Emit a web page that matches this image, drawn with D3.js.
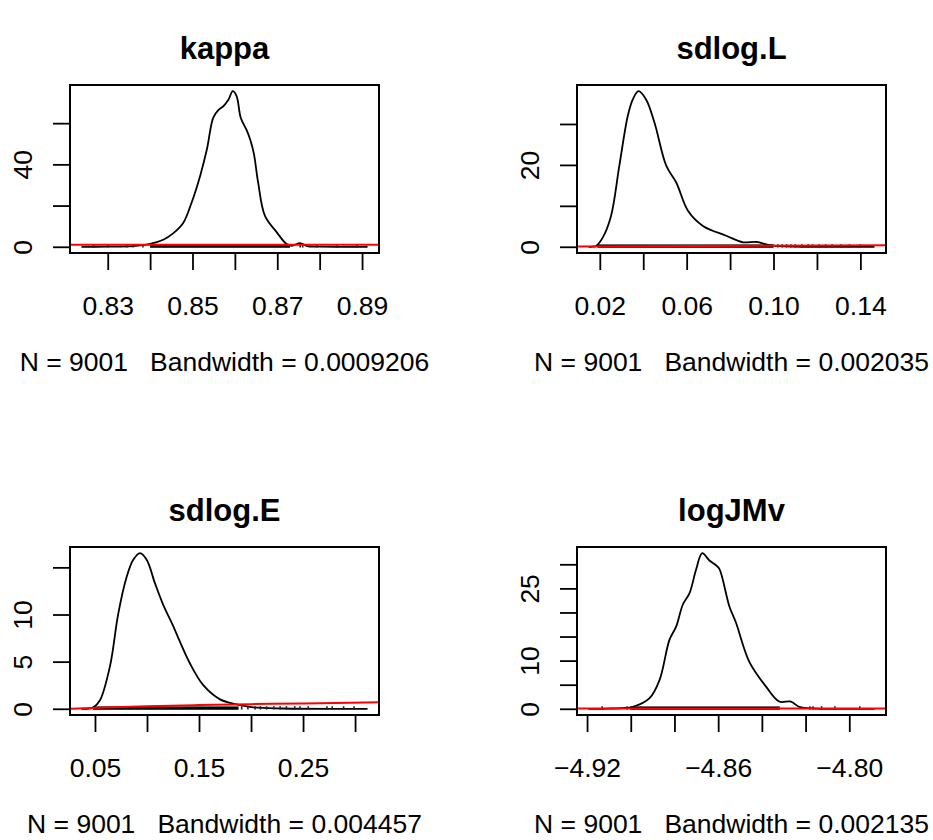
<!DOCTYPE html>
<meta charset="utf-8">
<style>
body { margin: 0; background: #fff; }
svg { display: block; }
text { font-family: "Liberation Sans", Arial, sans-serif; fill: #000; }
.axis text { font-size: 26.5px; }
.axis line, .axis path { stroke: #000; stroke-width: 1.8px; }
.box { fill: none; stroke: #000; stroke-width: 2px; }
.dens { fill: none; stroke: #000; stroke-width: 1.8px; }
.prior { fill: none; stroke: #ff0000; stroke-width: 2px; }
.title { font-size: 31px; font-weight: bold; }
.sub { font-size: 26.5px; white-space: pre; }
</style>
<svg width="933" height="840"></svg>

<script src="https://d3js.org/d3.v7.min.js"></script>
<script>

// panel titles and footers
var titles = ["kappa", "sdlog.L", "sdlog.E", "logJMv"];
var subs = ["N = 9001   Bandwidth = 0.0009206",
            "N = 9001   Bandwidth = 0.002035",
            "N = 9001   Bandwidth = 0.004457",
            "N = 9001   Bandwidth = 0.002135"];

// posterior density curves
var kappaX = [0.8238, 0.8300, 0.8360, 0.8400, 0.8431, 0.8455, 0.8478, 0.8498, 0.8518, 0.8534, 0.8549, 0.8561, 0.8573, 0.8585, 0.8595, 0.8604, 0.8614, 0.8628, 0.8637, 0.8645, 0.8655, 0.8671, 0.8699, 0.8722, 0.8734, 0.8754, 0.8770, 0.8800, 0.8913];
var kappaY = [0, 0.05, 0.3, 1.4, 3.4, 6.6, 11.5, 21.5, 34.4, 47.3, 62.7, 66.3, 68.3, 71.5, 75.5, 73.1, 62.5, 56.5, 51.5, 45, 31, 15, 7, 1.3, 0.5, 1.8, 0.3, 0.05, 0];

var sdlogLX = [0.0148, 0.0170, 0.0183, 0.0214, 0.0252, 0.0290, 0.0329, 0.0352, 0.0378, 0.0413, 0.0452, 0.0506, 0.0552, 0.0606, 0.0675, 0.0782, 0.0859, 0.0921, 0.0982, 0.1050, 0.1465];
var sdlogLY = [0, 0.02, 0.2, 2.3, 7.6, 19.8, 32, 36, 38, 36, 30.3, 19.8, 15.7, 8.8, 5.1, 2.7, 1.1, 1.2, 0.4, 0.1, 0];

var sdlogEX = [0.037, 0.0440, 0.0484, 0.0548, 0.0644, 0.0724, 0.0805, 0.0868, 0.0933, 0.0997, 0.1077, 0.1157, 0.1238, 0.1413, 0.1541, 0.1702, 0.1862, 0.2022, 0.2300, 0.312];
var sdlogEY = [0, 0.02, 0.15, 0.9, 4.5, 10.1, 14, 15.8, 16.5, 15.8, 13.3, 11, 9.1, 4.8, 2.5, 1.0, 0.47, 0.15, 0.03, 0];

var logJMvX = [-4.9194, -4.9100, -4.9040, -4.8990, -4.8914, -4.8868, -4.8823, -4.8792, -4.8762, -4.8731, -4.8701, -4.8673, -4.8640, -4.8610, -4.8594, -4.8549, -4.8518, -4.8458, -4.8381, -4.8321, -4.8267, -4.8229, -4.8150, -4.7884];
var logJMvY = [0, 0.05, 0.15, 0.4, 2.2, 6, 14.3, 17.1, 21.6, 24, 28.9, 32.3, 30.8, 29.8, 29.0, 21.3, 17.8, 9.8, 4.6, 1.5, 1.5, 0.4, 0.05, 0];

// prior densities (red)
var kappaPriorX = [0.8211, 0.8940], kappaPriorY = [1, 1];
var sdlogLPriorX = [0.0095, 0.1518], sdlogLPriorY = [0.05, 0.4];
var sdlogEPriorX = [0.026, 0.06, 0.10, 0.15, 0.20, 0.25, 0.323];
var sdlogEPriorY = [0.0, 0.14, 0.27, 0.39, 0.49, 0.57, 0.68];
var logJMvPriorX = [-4.9246, -4.7832], logJMvPriorY = [0.05, 0.05];

// rug: dense stretch + isolated observations
var kappaRugDense = [0.8400, 0.8730];
var kappaRug = [0.8266, 0.8300, 0.8345, 0.8360, 0.8383, 0.8754, 0.8760, 0.8793, 0.8840, 0.8888];
var sdlogLRugDense = [0.0190, 0.1000];
var sdlogLRug = [0.102, 0.104, 0.106, 0.108, 0.110, 0.113, 0.116, 0.118, 0.121, 0.124, 0.127, 0.131, 0.135, 0.140];
var sdlogERugDense = [0.0480, 0.1880];
var sdlogERug = [0.191, 0.197, 0.204, 0.209, 0.215, 0.222, 0.228, 0.234, 0.242, 0.247, 0.255, 0.273, 0.278, 0.289, 0.299];
var logJMvRugDense = [-4.9002, -4.8318];
var logJMvRug = [-4.9131, -4.9017, -4.8979, -4.8956, -4.8180, -4.8166, -4.8127, -4.8066, -4.7952];

// axis ranges and ticks
var xDomains = [[0.8211, 0.8940], [0.0095, 0.1518], [0.026, 0.323], [-4.9246, -4.7832]];
var yMax = [75.5, 38, 16.5, 32.3];
var xTicks = [[0.83, 0.84, 0.85, 0.86, 0.87, 0.88, 0.89],
              [0.02, 0.04, 0.06, 0.08, 0.10, 0.12, 0.14],
              [0.05, 0.10, 0.15, 0.20, 0.25, 0.30],
              [-4.92, -4.90, -4.88, -4.86, -4.84, -4.82, -4.80]];
var xLabels = [["0.83", "0.85", "0.87", "0.89"],
               ["0.02", "0.06", "0.10", "0.14"],
               ["0.05", "0.15", "0.25"],
               ["\u22124.92", "\u22124.86", "\u22124.80"]];
var yTicks = [[0, 20, 40, 60], [0, 10, 20, 30], [0, 5, 10, 15], [0, 5, 10, 15, 20, 25, 30]];
var yLabels = [[0, 40], [0, 20], [0, 5, 10], [0, 10, 25]];

var panels = [
  {x: kappaX, y: kappaY, px: kappaPriorX, py: kappaPriorY, dense: kappaRugDense, rug: kappaRug},
  {x: sdlogLX, y: sdlogLY, px: sdlogLPriorX, py: sdlogLPriorY, dense: sdlogLRugDense, rug: sdlogLRug},
  {x: sdlogEX, y: sdlogEY, px: sdlogEPriorX, py: sdlogEPriorY, dense: sdlogERugDense, rug: sdlogERug},
  {x: logJMvX, y: logJMvY, px: logJMvPriorX, py: logJMvPriorY, dense: logJMvRugDense, rug: logJMvRug}
];

var svg = d3.select("svg");

// plot boxes (left, top) per panel
var boxW = 309, boxH = 168;
var boxes = [[70, 85], [577, 85], [70, 547], [577, 547]];

function fmt(v) {
  return v < 0 ? "\u2212" + d3.format(".2f")(-v) : d3.format(".2f")(v);
}

panels.forEach(function(p, i) {
  var bx = boxes[i][0], by = boxes[i][1];
  var g = svg.append("g").attr("transform", "translate(" + bx + "," + by + ")");

  var x = d3.scaleLinear().domain(xDomains[i]).range([0, boxW]);
  var y = d3.scaleLinear().domain([-0.04 * yMax[i], 1.04 * yMax[i]]).range([boxH, 0]);

  g.append("clipPath").attr("id", "clip" + i)
    .append("rect").attr("width", boxW).attr("height", boxH);

  var plot = g.append("g").attr("clip-path", "url(#clip" + i + ")");

  var line = d3.line()
      .x(function(d) { return x(d[0]); })
      .y(function(d) { return y(d[1]); })
      .curve(d3.curveCatmullRom.alpha(0.5));

  plot.append("path")
      .attr("class", "dens")
      .attr("d", line(d3.zip(p.x, p.y)));

  // rug
  var h = yMax[i] / 100;
  plot.append("rect")
      .attr("x", x(p.dense[0]))
      .attr("width", x(p.dense[1]) - x(p.dense[0]))
      .attr("y", y(h) - 0.8)
      .attr("height", y(0) - y(h) + 1.8)
      .attr("fill", "#000");
  plot.selectAll(".rug")
    .data(p.rug)
    .enter().append("line")
      .attr("x1", function(d) { return x(d); })
      .attr("x2", function(d) { return x(d); })
      .attr("y1", y(0) + 0.8)
      .attr("y2", y(h) - 1)
      .attr("stroke", "#222")
      .attr("stroke-width", 1.6);

  plot.append("path")
      .attr("class", "prior")
      .attr("d", d3.line()
        .x(function(d) { return x(d[0]); })
        .y(function(d) { return y(d[1]); })
        .curve(d3.curveMonotoneX)(d3.zip(p.px, p.py)));

  g.append("rect").attr("class", "box").attr("width", boxW).attr("height", boxH);

  // x axis
  var xa = g.append("g").attr("class", "axis")
      .attr("transform", "translate(0," + boxH + ")")
      .call(d3.axisBottom(x).tickValues(xTicks[i]).tickSize(17).tickSizeOuter(0)
        .tickFormat(function(d) {
          var s = fmt(d);
          return xLabels[i].indexOf(s) >= 0 ? s : "";
        }));
  xa.select(".domain").remove();
  xa.selectAll("text").attr("y", 62).attr("dy", null);

  // y axis
  var ya = g.append("g").attr("class", "axis")
      .call(d3.axisLeft(y).tickValues(yTicks[i]).tickSize(17).tickSizeOuter(0)
        .tickFormat(function(d) { return yLabels[i].indexOf(d) >= 0 ? d : ""; }));
  ya.select(".domain").remove();
  ya.selectAll("text")
      .attr("x", null).attr("dy", null)
      .attr("text-anchor", "middle")
      .attr("transform", "translate(-38,0) rotate(-90)");

  g.append("text")
      .attr("class", "title")
      .attr("x", boxW / 2)
      .attr("y", -26)
      .attr("text-anchor", "middle")
      .text(titles[i]);

  g.append("text")
      .attr("class", "sub")
      .attr("x", boxW / 2)
      .attr("y", boxH + 118)
      .attr("text-anchor", "middle")
      .text(subs[i]);
});

</script>
